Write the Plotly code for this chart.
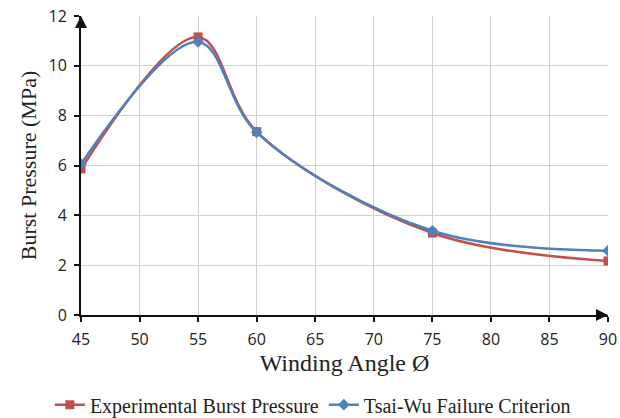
import plotly.graph_objects as go

angles = [45, 55, 60, 75, 90]
experimental = [5.86, 11.16, 7.36, 3.29, 2.17]
tsai_wu = [6.06, 10.96, 7.33, 3.38, 2.58]
x_ticks = [45, 50, 55, 60, 65, 70, 75, 80, 85, 90]
y_ticks = [0, 2, 4, 6, 8, 10, 12]

fig = go.Figure()
fig.add_trace(go.Scatter(
    x=angles, y=experimental, name="Experimental Burst Pressure",
    mode="lines+markers", line=dict(color="#C0504D", width=2.5, shape="spline", smoothing=1),
    marker=dict(symbol="square", size=9, color="#C0504D")))
fig.add_trace(go.Scatter(
    x=angles, y=tsai_wu, name="Tsai-Wu Failure Criterion",
    mode="lines+markers", line=dict(color="#4F81BD", width=2.5, shape="spline", smoothing=1),
    marker=dict(symbol="diamond", size=9, color="#4F81BD")))

fig.update_layout(
    width=620, height=418,
    margin=dict(l=81, r=12, t=16, b=103, autoexpand=False),
    plot_bgcolor="white", paper_bgcolor="white",
    showlegend=True,
    legend=dict(orientation="h", x=0.44, xanchor="center", y=-0.30, yanchor="middle",
                font=dict(family="Liberation Serif", size=20, color="#222"),
                itemwidth=30, tracegroupgap=0),
    xaxis=dict(range=[45, 90], tickvals=x_ticks, showgrid=True, gridcolor="#D0D0D0",
               showline=True, linecolor="#111", linewidth=2, ticks="outside", ticklen=5,
               tickcolor="#111", tickwidth=2, zeroline=False, automargin=False,
               ticklabelstandoff=4,
               tickfont=dict(family="Open Sans", size=16, color="#222"),
               title=dict(text="Winding Angle Ø", font=dict(family="Liberation Serif", size=24, color="#222"),
                          standoff=4)),
    yaxis=dict(range=[0, 12], tickvals=y_ticks, showgrid=True, gridcolor="#D0D0D0",
               showline=True, linecolor="#111", linewidth=2, ticks="outside", ticklen=5,
               tickcolor="#111", tickwidth=2, zeroline=False, automargin=False,
               ticklabelstandoff=4,
               tickfont=dict(family="Open Sans", size=16, color="#222"),
               title=dict(text="Burst Pressure (MPa)", font=dict(family="Liberation Serif", size=22, color="#222"),
                          standoff=6)),
)
# axis arrowheads
fig.add_annotation(x=0, y=1.0, ax=0, ay=12, xref="paper", yref="paper",
                   showarrow=True, arrowhead=2, arrowsize=1.2, arrowwidth=2, arrowcolor="#111", text="")
fig.add_annotation(x=1.0, y=0, ax=-12, ay=0, xref="paper", yref="paper",
                   showarrow=True, arrowhead=2, arrowsize=1.2, arrowwidth=2, arrowcolor="#111", text="")

fig.write_html("out.html")
